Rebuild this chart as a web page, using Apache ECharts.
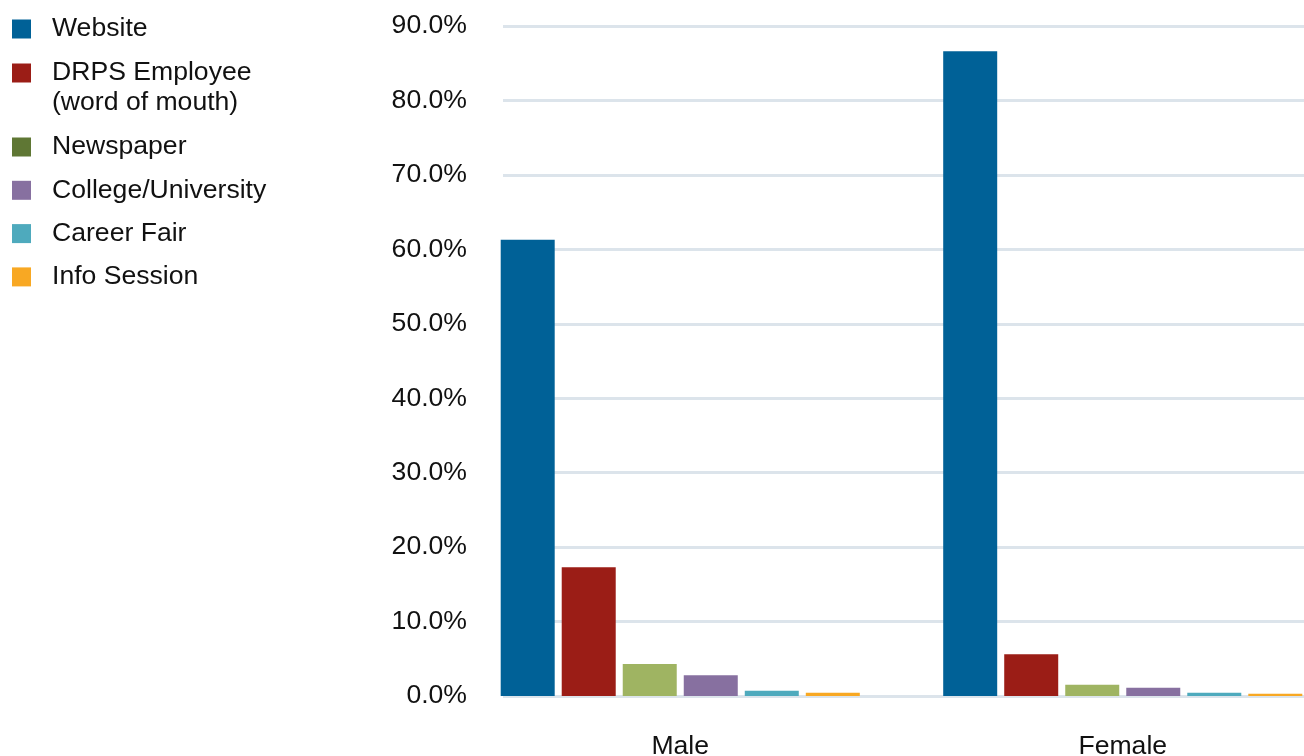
<!DOCTYPE html>
<html>
<head>
<meta charset="utf-8">
<script src="https://cdn.jsdelivr.net/npm/echarts@6/dist/echarts.min.js"></script>
<style>
  html, body { margin: 0; padding: 0; background: #fff; }
  #chart { width: 1304px; height: 756px; }
</style>
</head>
<body>
<div id="chart"></div>
<script>
// Where applicants heard about the job, share by gender (percent)
const categories = ['Male', 'Female'];
const seriesNames = ['Website', 'DRPS Employee\n(word of mouth)', 'Newspaper', 'College/University', 'Career Fair', 'Info Session'];
const website    = [61.3, 86.6];
const drps       = [17.3, 5.6];
const newspaper  = [4.3, 1.5];
const college    = [2.8, 1.1];
const careerFair = [0.7, 0.45];
const infoSess   = [0.45, 0.3];
const yTicks = { min: 0, max: 90, interval: 10 };

const values = [website, drps, newspaper, college, careerFair, infoSess];
const barColors = ['#006197', '#9b1d16', '#9fb462', '#8770a0', '#4eaabd', '#f8a823'];
const swatchColors = ['#006197', '#9b1d16', '#5f7734', '#8770a0', '#4eaabd', '#f8a823'];

const FONT = 'Liberation Sans, Arial, Helvetica, sans-serif';
const FS = 26.6;
const TXT = '#111';

const chart = echarts.init(document.getElementById('chart'), null, { renderer: 'canvas' });

const series = seriesNames.map((name, i) => ({
  name: name,
  type: 'bar',
  xAxisIndex: 1,
  yAxisIndex: 1,
  data: values[i],
  barWidth: 54,
  barGap: '13%',
  itemStyle: { color: barColors[i] },
  emphasis: { disabled: true }
}));

const legendBase = {
  orient: 'vertical',
  left: 12,
  padding: 0,
  itemWidth: 19,
  itemHeight: 19,
  icon: 'rect',
  selectedMode: false,
  textStyle: { fontFamily: FONT, fontSize: FS, color: TXT, lineHeight: 30, padding: [0, 0, 0, 16] }
};

const legendItem = i => ({ name: seriesNames[i], itemStyle: { color: swatchColors[i] } });

chart.setOption({
  animation: false,
  backgroundColor: '#fff',
  legend: [
    Object.assign({}, legendBase, { top: 14, data: [legendItem(0)] }),
    Object.assign({}, legendBase, {
      top: 28,
      data: [legendItem(1)],
      formatter: () => '{e| }\n{t|DRPS Employee}\n{t|(word of mouth)}',
      textStyle: Object.assign({}, legendBase.textStyle, {
        rich: {
          e: { fontFamily: FONT, fontSize: FS, lineHeight: 30, color: TXT },
          t: { fontFamily: FONT, fontSize: FS, lineHeight: 30, color: TXT }
        }
      })
    }),
    Object.assign({}, legendBase, {
      top: 132,
      itemGap: 13.3,
      data: [legendItem(2), legendItem(3), legendItem(4), legendItem(5)]
    })
  ],
  grid: [
    // gridlines and percent labels
    { left: 503, right: 0, top: 26, bottom: 60, containLabel: false, outerBoundsMode: 'none' },
    // bars
    { left: 459, right: -40, top: 26, bottom: 60, containLabel: false, outerBoundsMode: 'none' }
  ],
  xAxis: [
    { type: 'value', gridIndex: 0, show: false, min: 0, max: 1 },
    {
      type: 'category',
      gridIndex: 1,
      data: categories,
      axisLine: { show: false },
      axisTick: { show: false },
      axisLabel: { margin: 37, fontFamily: FONT, fontSize: FS, color: TXT }
    }
  ],
  yAxis: [
    {
      type: 'value',
      gridIndex: 0,
      min: yTicks.min,
      max: yTicks.max,
      interval: yTicks.interval,
      axisLine: { show: false },
      axisTick: { show: false },
      splitLine: { show: true, lineStyle: { color: '#dce4eb', width: 3 } },
      axisLabel: {
        margin: 36,
        fontFamily: FONT,
        fontSize: FS,
        color: TXT,
        formatter: v => v.toFixed(1) + '%'
      }
    },
    {
      type: 'value',
      gridIndex: 1,
      min: yTicks.min,
      max: yTicks.max,
      interval: yTicks.interval,
      show: false,
      splitLine: { show: false }
    }
  ],
  series: series
});
</script>
</body>
</html>
